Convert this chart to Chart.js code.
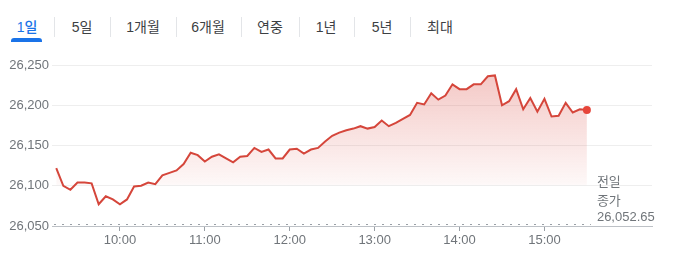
<!DOCTYPE html>
<html lang="ko">
<head>
<meta charset="utf-8">
<script src="https://cdn.jsdelivr.net/npm/chart.js@4.4.1/dist/chart.umd.min.js"></script>
<style>
  html, body { margin: 0; padding: 0; background: #fff; }
  body { width: 680px; height: 253px; position: relative; overflow: hidden;
         font-family: Arial, "Liberation Sans", "Noto Sans CJK KR", sans-serif; }
  .tab { position: absolute; top: 17px; transform: translateX(-50%); font-size: 14px;
         line-height: 20px; color: #3c4043; white-space: nowrap; }
  .tab.active { color: #1a73e8; font-weight: 500; }
  .sep { position: absolute; top: 17px; width: 1px; height: 20px; background: #e3e5e8; }
  .underline { position: absolute; left: 11px; top: 38px; width: 31px; height: 4px;
               background: #1a73e8; border-radius: 3px 3px 0 0; }
  #wrap { position: absolute; left: 0; top: 45px; width: 680px; height: 208px; }
</style>
</head>
<body>
<div id="tabs"></div>
<div class="underline"></div>
<div id="wrap"><canvas id="priceChart" width="680" height="208"></canvas></div>
<script>
// range tabs
const tabLabels = ["1일", "5일", "1개월", "6개월", "연중", "1년", "5년", "최대"];
const tabCenters = [27, 82, 143, 208, 270, 326, 382, 440];
const sepPositions = [54, 110, 176, 241, 299, 354, 410];

// intraday data (5 minute steps)
const times = [
  "9:15", "9:20", "9:25", "9:30", "9:35", "9:40", "9:45", "9:50", "9:55",
  "10:00", "10:05", "10:10", "10:15", "10:20", "10:25", "10:30", "10:35", "10:40", "10:45", "10:50", "10:55",
  "11:00", "11:05", "11:10", "11:15", "11:20", "11:25", "11:30", "11:35", "11:40", "11:45", "11:50", "11:55",
  "12:00", "12:05", "12:10", "12:15", "12:20", "12:25", "12:30", "12:35", "12:40", "12:45", "12:50", "12:55",
  "13:00", "13:05", "13:10", "13:15", "13:20", "13:25", "13:30", "13:35", "13:40", "13:45", "13:50", "13:55",
  "14:00", "14:05", "14:10", "14:15", "14:20", "14:25", "14:30", "14:35", "14:40", "14:45", "14:50", "14:55",
  "15:00", "15:05", "15:10", "15:15", "15:20", "15:25", "15:30"
];
const prices = [
  26122, 26100, 26095, 26104, 26104, 26103, 26077, 26087, 26083,
  26077, 26083, 26099, 26100, 26104, 26102, 26113, 26116, 26119, 26127, 26141, 26138,
  26130, 26136, 26139, 26134, 26129, 26136, 26137, 26147, 26142, 26145, 26134, 26134,
  26145, 26146, 26140, 26145, 26147, 26155, 26162, 26166, 26169, 26171, 26174, 26171,
  26173, 26181, 26174, 26178, 26183, 26188, 26203, 26201, 26215, 26207, 26212, 26226,
  26220, 26220, 26226, 26226, 26236, 26237, 26200, 26205, 26220, 26195, 26209, 26192,
  26208, 26186, 26187, 26203, 26191, 26195, 26194
];
const prevClose = 26052.65;
const prevCloseLabel = ["전일", "종가", "26,052.65"];

// axes
const xTickLabels = ["10:00", "11:00", "12:00", "13:00", "14:00", "15:00"];
const xRange = ["9:12", "16:16"];
const yTickValues = [26050, 26100, 26150, 26200, 26250];

const toMin = s => {
  const [h, m] = s.split(":").map(Number);
  return h * 60 + m;
};

// build tabs
const tabsEl = document.getElementById("tabs");
tabLabels.forEach((t, i) => {
  const d = document.createElement("div");
  d.className = "tab" + (i === 0 ? " active" : "");
  d.style.left = tabCenters[i] + "px";
  d.textContent = t;
  tabsEl.appendChild(d);
});
sepPositions.forEach(x => {
  const s = document.createElement("div");
  s.className = "sep";
  s.style.left = x + "px";
  tabsEl.appendChild(s);
});

const lineColor = "#d5463b";
const lastIdx = prices.length - 1;

// dotted previous close line + label
const prevClosePlugin = {
  id: "prevClose",
  beforeDatasetsDraw(chart) {
    const { ctx, chartArea, scales: { x, y } } = chart;
    const py = y.getPixelForValue(prevClose);
    const endX = x.getPixelForValue(toMin(times[lastIdx]));
    ctx.save();
    ctx.setLineDash([2, 6]);
    ctx.lineWidth = 1;
    ctx.strokeStyle = "#9aa0a6";
    ctx.beginPath();
    ctx.moveTo(chartArea.left + 2, Math.round(py) + 0.5);
    ctx.lineTo(endX + 4, Math.round(py) + 0.5);
    ctx.stroke();
    ctx.setLineDash([]);
    ctx.font = '13px Arial, "Liberation Sans", "Noto Sans CJK KR"';
    ctx.fillStyle = "#70757a";
    ctx.textAlign = "left";
    ctx.textBaseline = "middle";
    ctx.fillText(prevCloseLabel[0], endX + 10, py - 41);
    ctx.fillText(prevCloseLabel[1], endX + 10, py - 22);
    ctx.fillText(prevCloseLabel[2], endX + 10, py - 6);
    ctx.restore();
  }
};

const ctx = document.getElementById("priceChart").getContext("2d");
new Chart(ctx, {
  type: "line",
  data: {
    datasets: [{
      data: times.map((t, i) => ({ x: toMin(t), y: prices[i] })),
      borderColor: lineColor,
      borderWidth: 2,
      tension: 0,
      fill: "start",
      backgroundColor(context) {
        const area = context.chart.chartArea;
        if (!area) return "rgba(217,72,63,0.1)";
        const g = context.chart.ctx.createLinearGradient(0, area.top, 0, area.bottom);
        g.addColorStop(0, "rgba(217,72,63,0.32)");
        g.addColorStop(0.74, "rgba(217,72,63,0.04)");
        g.addColorStop(0.75, "rgba(217,72,63,0)");
        g.addColorStop(1, "rgba(217,72,63,0)");
        return g;
      },
      pointRadius: c => (c.dataIndex === lastIdx ? 4 : 0),
      pointBackgroundColor: "#e6453a",
      pointBorderWidth: 0,
      pointHoverRadius: 0
    }]
  },
  options: {
    responsive: false,
    animation: false,
    devicePixelRatio: 1,
    layout: { padding: { top: 20, right: 28, left: 0, bottom: 0 } },
    plugins: {
      legend: { display: false },
      tooltip: { enabled: false }
    },
    scales: {
      x: {
        type: "linear",
        min: toMin(xRange[0]),
        max: toMin(xRange[1]),
        afterBuildTicks(axis) {
          axis.ticks = xTickLabels.map(s => ({ value: toMin(s) }));
        },
        afterFit(scale) { scale.height = 27; },
        grid: { drawOnChartArea: false, drawTicks: true, tickLength: 5, color: "#9aa0a6" },
        border: { display: true, color: "#bdc1c6", width: 1 },
        ticks: {
          padding: 2,
          maxRotation: 0,
          color: "#70757a",
          font: { family: 'Arial, "Liberation Sans"', size: 13 },
          callback: v => xTickLabels.find(s => toMin(s) === v) || ""
        }
      },
      y: {
        min: yTickValues[0],
        max: yTickValues[yTickValues.length - 1],
        afterBuildTicks(axis) {
          axis.ticks = yTickValues.map(v => ({ value: v }));
        },
        afterFit(scale) { scale.width = 52; },
        grid: { color: "#eeeeee", drawTicks: false },
        border: { display: false },
        ticks: {
          padding: 3,
          color: "#70757a",
          font: { family: 'Arial, "Liberation Sans"', size: 13 },
          callback: v => v.toLocaleString("en-US")
        }
      }
    }
  },
  plugins: [prevClosePlugin]
});
</script>
</body>
</html>
